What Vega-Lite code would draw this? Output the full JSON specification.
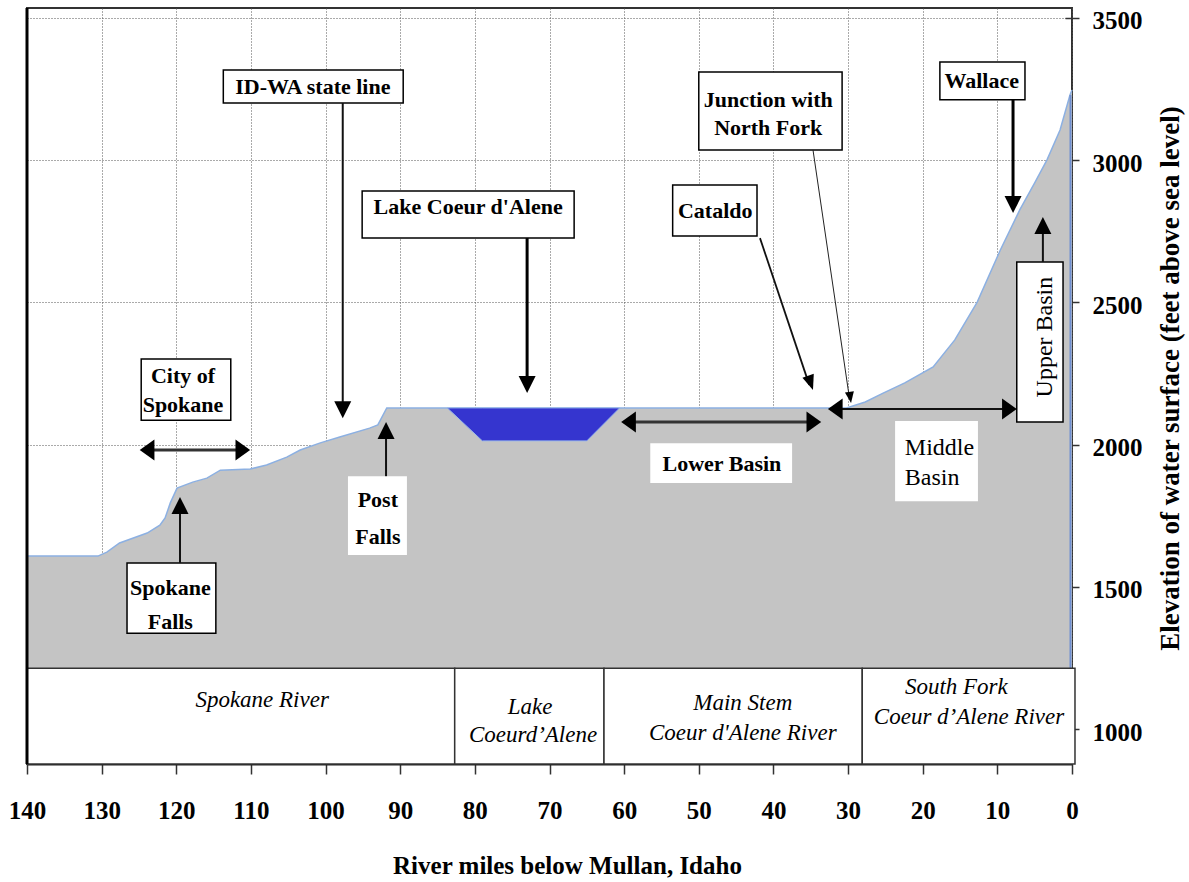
{
  "$schema": "https://vega.github.io/schema/vega-lite/v6.json",
  "width": 1045,
  "height": 756,
  "autosize": {"type": "none"},
  "padding": {"left": 27, "top": 8, "right": 117, "bottom": 118},
  "background": "white",
  "config": {
    "font": "Liberation Serif",
    "view": {"stroke": "#333333", "strokeWidth": 2},
    "axis": {"gridColor": "#555555", "gridDash": [1, 2], "gridWidth": 1, "gridOpacity": 1}
  },
  "datasets": {
    "profile": [
      {"mile": 140, "elev": 1608}, {"mile": 130.5, "elev": 1608}, {"mile": 129.3, "elev": 1622},
      {"mile": 127.6, "elev": 1654}, {"mile": 123.9, "elev": 1689}, {"mile": 122.2, "elev": 1717},
      {"mile": 121.5, "elev": 1742}, {"mile": 120.8, "elev": 1795}, {"mile": 119.9, "elev": 1847},
      {"mile": 117.8, "elev": 1868}, {"mile": 115.9, "elev": 1882}, {"mile": 114.1, "elev": 1910},
      {"mile": 110.1, "elev": 1914}, {"mile": 107.9, "elev": 1928}, {"mile": 105.2, "elev": 1956},
      {"mile": 103.4, "elev": 1981}, {"mile": 100.7, "elev": 2006}, {"mile": 98.1, "elev": 2027},
      {"mile": 94.1, "elev": 2058}, {"mile": 93.0, "elev": 2069}, {"mile": 91.8, "elev": 2129},
      {"mile": 30.2, "elev": 2129}, {"mile": 27.7, "elev": 2150}, {"mile": 25.3, "elev": 2181},
      {"mile": 22.4, "elev": 2217}, {"mile": 18.6, "elev": 2273}, {"mile": 15.7, "elev": 2368},
      {"mile": 12.7, "elev": 2501}, {"mile": 9.6, "elev": 2684}, {"mile": 7.0, "elev": 2825},
      {"mile": 5.0, "elev": 2920}, {"mile": 3.35, "elev": 3001}, {"mile": 1.6, "elev": 3106},
      {"mile": 0.27, "elev": 3229}, {"mile": 0, "elev": 3247}
    ],
    "lake": [
      {"mile": 83.7, "elev": 2129, "elev2": 2129},
      {"mile": 79.0, "elev": 2129, "elev2": 2013},
      {"mile": 65.0, "elev": 2129, "elev2": 2013},
      {"mile": 60.6, "elev": 2129, "elev2": 2129}
    ],
    "edges": [
      {"mile": 0.2, "elev": 3229, "elev2": 1214}
    ],
    "frameLeft": [
      {"mile": 140, "elev": 3535, "elev2": 877}
    ],
    "band": [
      {"mile": 140, "mile2": 82.7, "elev": 1214, "elev2": 877},
      {"mile": 82.7, "mile2": 62.7, "elev": 1214, "elev2": 877},
      {"mile": 62.7, "mile2": 28.1, "elev": 1214, "elev2": 877},
      {"mile": 28.1, "mile2": -0.4, "elev": 1214, "elev2": 877}
    ],
    "bandLabels": [
      {"mile": 108.5, "elev": 1102, "label": "Spokane River"},
      {"mile": 72.6, "elev": 1077, "label": "Lake"},
      {"mile": 72.2, "elev": 979, "label": "Coeurd’Alene"},
      {"mile": 44.1, "elev": 1091, "label": "Main Stem"},
      {"mile": 44.1, "elev": 986, "label": "Coeur d'Alene River"},
      {"mile": 15.5, "elev": 1148, "label": "South Fork"},
      {"mile": 13.8, "elev": 1042, "label": "Coeur d’Alene River"}
    ],
    "boxes": [
      {"mile": 113.7, "mile2": 89.6, "elev": 3317, "elev2": 3201, "kind": "border"},
      {"mile": 95.1, "mile2": 66.7, "elev": 2892, "elev2": 2726, "kind": "border"},
      {"mile": 50.0, "mile2": 30.8, "elev": 3310, "elev2": 3036, "kind": "border"},
      {"mile": 53.5, "mile2": 42.2, "elev": 2913, "elev2": 2733, "kind": "border"},
      {"mile": 17.7, "mile2": 6.3, "elev": 3345, "elev2": 3212, "kind": "border"},
      {"mile": 7.4, "mile2": 1.2, "elev": 2642, "elev2": 2079, "kind": "border"},
      {"mile": 124.7, "mile2": 112.7, "elev": 2301, "elev2": 2086, "kind": "border"},
      {"mile": 126.6, "mile2": 114.7, "elev": 1584, "elev2": 1337, "kind": "border"},
      {"mile": 97.0, "mile2": 89.1, "elev": 1889, "elev2": 1612, "kind": "plain"},
      {"mile": 56.5, "mile2": 37.5, "elev": 2005, "elev2": 1865, "kind": "plain"},
      {"mile": 23.7, "mile2": 12.6, "elev": 2083, "elev2": 1801, "kind": "plain"}
    ],
    "shafts": [
      {"mile": 73.0, "elev": 2726, "mile2": 73.0, "elev2": 2200, "kind": "thick"},
      {"mile": 7.9, "elev": 3212, "mile2": 7.9, "elev2": 2835, "kind": "thick"},
      {"mile": 97.7, "elev": 3201, "mile2": 97.7, "elev2": 2110, "kind": "medium"},
      {"mile": 119.5, "elev": 1584, "mile2": 119.5, "elev2": 1800, "kind": "medium"},
      {"mile": 91.9, "elev": 1889, "mile2": 91.9, "elev2": 2060, "kind": "medium"},
      {"mile": 3.9, "elev": 2642, "mile2": 3.9, "elev2": 2780, "kind": "medium"},
      {"mile": 31.8, "elev": 2125, "mile2": 8.3, "elev2": 2125, "kind": "medium"},
      {"mile": 124.0, "elev": 1981, "mile2": 111.0, "elev2": 1981, "kind": "double"},
      {"mile": 59.5, "elev": 2079, "mile2": 34.5, "elev2": 2079, "kind": "double"},
      {"mile": 41.8, "elev": 2726, "mile2": 35.2, "elev2": 2210, "kind": "thin"},
      {"mile": 34.7, "elev": 3036, "mile2": 29.8, "elev2": 2160, "kind": "hair"}
    ],
    "heads": [
      {"mile": 97.7, "elev": 2093, "dir": "down"},
      {"mile": 73.0, "elev": 2181, "dir": "down"},
      {"mile": 7.9, "elev": 2814, "dir": "down"},
      {"mile": 119.5, "elev": 1816, "dir": "up"},
      {"mile": 91.9, "elev": 2079, "dir": "up"},
      {"mile": 3.9, "elev": 2800, "dir": "up"},
      {"mile": 124.9, "elev": 1981, "dir": "left"},
      {"mile": 60.4, "elev": 2079, "dir": "left"},
      {"mile": 32.7, "elev": 2125, "dir": "left"},
      {"mile": 110.1, "elev": 1981, "dir": "right"},
      {"mile": 33.6, "elev": 2079, "dir": "right"},
      {"mile": 7.4, "elev": 2125, "dir": "right"},
      {"mile": 34.7, "elev": 2192, "dir": "cataldo"},
      {"mile": 29.6, "elev": 2146, "dir": "junction"}
    ],
    "labelsBold": [
      {"mile": 101.7, "elev": 3257, "label": "ID-WA state line"},
      {"mile": 80.9, "elev": 2835, "label": "Lake Coeur d'Alene"},
      {"mile": 40.7, "elev": 3212, "label": "Junction with"},
      {"mile": 40.7, "elev": 3113, "label": "North Fork"},
      {"mile": 47.8, "elev": 2821, "label": "Cataldo"},
      {"mile": 12.1, "elev": 3278, "label": "Wallace"},
      {"mile": 119.1, "elev": 2241, "label": "City of"},
      {"mile": 119.1, "elev": 2139, "label": "Spokane"},
      {"mile": 120.8, "elev": 1496, "label": "Spokane"},
      {"mile": 120.8, "elev": 1376, "label": "Falls"},
      {"mile": 93.0, "elev": 1805, "label": "Post"},
      {"mile": 93.0, "elev": 1675, "label": "Falls"},
      {"mile": 46.9, "elev": 1932, "label": "Lower Basin"}
    ],
    "labelsPlain": [
      {"mile": 22.4, "elev": 1988, "label": "Middle"},
      {"mile": 22.4, "elev": 1882, "label": "Basin"}
    ],
    "labelUpper": [
      {"mile": 3.6, "elev": 2378, "label": "Upper Basin"}
    ]
  },
  "encoding": {
    "x": {
      "field": "mile",
      "type": "quantitative",
      "scale": {"domain": [0, 140], "reverse": true, "nice": false, "zero": false},
      "axis": {
        "orient": "bottom",
        "title": "River miles below Mullan, Idaho",
        "values": [0, 10, 20, 30, 40, 50, 60, 70, 80, 90, 100, 110, 120, 130, 140],
        "format": "d",
        "grid": true,
        "domainColor": "#222222",
        "domainWidth": 2,
        "tickColor": "#333333",
        "tickSize": 10,
        "tickWidth": 1.5,
        "labelFont": "Liberation Serif",
        "labelFontSize": 25,
        "labelFontWeight": "bold",
        "labelColor": "black",
        "labelPadding": 24,
        "labelFlush": false,
        "labelOverlap": false,
        "titleFont": "Liberation Serif",
        "titleFontSize": 25,
        "titleFontWeight": "bold",
        "titleColor": "black",
        "titleBaseline": "alphabetic",
        "titleAnchor": null,
        "titleX": 540,
        "titleY": 109
      }
    },
    "y": {
      "field": "elev",
      "type": "quantitative",
      "scale": {"domain": [877, 3535], "nice": false, "zero": false},
      "axis": {
        "orient": "right",
        "title": "Elevation of water surface (feet above sea level)",
        "values": [1000, 1500, 2000, 2500, 3000, 3500],
        "format": "d",
        "grid": true,
        "offset": -7,
        "domain": false,
        "tickColor": "#333333",
        "tickSize": 14,
        "tickWidth": 1.5,
        "labelFont": "Liberation Serif",
        "labelFontSize": 25,
        "labelFontWeight": "bold",
        "labelColor": "black",
        "labelPadding": 13,
        "labelAlign": "left",
        "labelBaseline": "middle",
        "labelOffset": 3,
        "titleFont": "Liberation Serif",
        "titleFontSize": 27,
        "titleFontWeight": "bold",
        "titleColor": "black",
        "titleAngle": 270,
        "titleAlign": "center",
        "titleBaseline": "middle",
        "titleX": 105,
        "titleY": 370
      }
    }
  },
  "layer": [
    {
      "data": {"name": "profile"},
      "mark": {"type": "area", "color": "#c4c4c4", "interpolate": "linear"},
      "encoding": {"y2": {"datum": 877}}
    },
    {
      "data": {"name": "profile"},
      "mark": {"type": "line", "color": "#8cb0e2", "strokeWidth": 1.5, "interpolate": "linear"},
      "encoding": {}
    },
    {
      "data": {"name": "edges"},
      "mark": {"type": "rule", "color": "#6f8fd0", "strokeWidth": 2},
      "encoding": {"y2": {"field": "elev2"}}
    },
    {
      "data": {"name": "lake"},
      "mark": {"type": "area", "color": "#3535cf", "stroke": "#9ab8ea", "strokeWidth": 1, "interpolate": "linear"},
      "encoding": {"y2": {"field": "elev2"}}
    },
    {
      "data": {"name": "band"},
      "mark": {"type": "rect", "fill": "white", "stroke": "#333333", "strokeWidth": 1.5},
      "encoding": {"x2": {"field": "mile2"}, "y2": {"field": "elev2"}}
    },
    {
      "data": {"name": "bandLabels"},
      "mark": {"type": "text", "font": "Liberation Serif", "fontSize": 23, "fontStyle": "italic", "color": "black", "align": "center", "baseline": "middle"},
      "encoding": {"text": {"field": "label"}}
    },
    {
      "data": {"name": "frameLeft"},
      "mark": {"type": "rule", "color": "black", "strokeWidth": 3},
      "encoding": {"y2": {"field": "elev2"}}
    },
    {
      "data": {"name": "boxes"},
      "transform": [{"filter": "datum.kind === 'border'"}],
      "mark": {"type": "rect", "fill": "white", "stroke": "black", "strokeWidth": 1.5},
      "encoding": {"x2": {"field": "mile2"}, "y2": {"field": "elev2"}}
    },
    {
      "data": {"name": "boxes"},
      "transform": [{"filter": "datum.kind === 'plain'"}],
      "mark": {"type": "rect", "fill": "white"},
      "encoding": {"x2": {"field": "mile2"}, "y2": {"field": "elev2"}}
    },
    {
      "data": {"name": "shafts"},
      "transform": [{"filter": "datum.kind === 'thick'"}],
      "mark": {"type": "rule", "color": "black", "strokeWidth": 3},
      "encoding": {"x2": {"field": "mile2"}, "y2": {"field": "elev2"}}
    },
    {
      "data": {"name": "shafts"},
      "transform": [{"filter": "datum.kind === 'medium'"}],
      "mark": {"type": "rule", "color": "#111111", "strokeWidth": 2},
      "encoding": {"x2": {"field": "mile2"}, "y2": {"field": "elev2"}}
    },
    {
      "data": {"name": "shafts"},
      "transform": [{"filter": "datum.kind === 'double'"}],
      "mark": {"type": "rule", "color": "#333333", "strokeWidth": 3},
      "encoding": {"x2": {"field": "mile2"}, "y2": {"field": "elev2"}}
    },
    {
      "data": {"name": "shafts"},
      "transform": [{"filter": "datum.kind === 'thin'"}],
      "mark": {"type": "rule", "color": "#111111", "strokeWidth": 1.8},
      "encoding": {"x2": {"field": "mile2"}, "y2": {"field": "elev2"}}
    },
    {
      "data": {"name": "shafts"},
      "transform": [{"filter": "datum.kind === 'hair'"}],
      "mark": {"type": "rule", "color": "#222222", "strokeWidth": 1},
      "encoding": {"x2": {"field": "mile2"}, "y2": {"field": "elev2"}}
    },
    {
      "data": {"name": "heads"},
      "transform": [{"filter": "datum.dir === 'down'"}],
      "mark": {"type": "point", "shape": "M0,0L-1,-2L1,-2Z", "size": 289, "filled": true, "color": "black", "opacity": 1, "strokeWidth": 0},
      "encoding": {}
    },
    {
      "data": {"name": "heads"},
      "transform": [{"filter": "datum.dir === 'up'"}],
      "mark": {"type": "point", "shape": "M0,0L-1,-2L1,-2Z", "size": 289, "angle": 180, "filled": true, "color": "black", "opacity": 1, "strokeWidth": 0},
      "encoding": {}
    },
    {
      "data": {"name": "heads"},
      "transform": [{"filter": "datum.dir === 'left'"}],
      "mark": {"type": "point", "shape": "M0,0L-1,-1.4L1,-1.4Z", "size": 441, "angle": 90, "filled": true, "color": "black", "opacity": 1, "strokeWidth": 0},
      "encoding": {}
    },
    {
      "data": {"name": "heads"},
      "transform": [{"filter": "datum.dir === 'right'"}],
      "mark": {"type": "point", "shape": "M0,0L-1,-1.4L1,-1.4Z", "size": 441, "angle": 270, "filled": true, "color": "black", "opacity": 1, "strokeWidth": 0},
      "encoding": {}
    },
    {
      "data": {"name": "heads"},
      "transform": [{"filter": "datum.dir === 'cataldo'"}],
      "mark": {"type": "point", "shape": "M0,0L-1,-2.5L1,-2.5Z", "size": 144, "angle": 341, "filled": true, "color": "black", "opacity": 1, "strokeWidth": 0},
      "encoding": {}
    },
    {
      "data": {"name": "heads"},
      "transform": [{"filter": "datum.dir === 'junction'"}],
      "mark": {"type": "point", "shape": "M0,0L-1,-2.5L1,-2.5Z", "size": 81, "angle": 351.5, "filled": true, "color": "black", "opacity": 1, "strokeWidth": 0},
      "encoding": {}
    },
    {
      "data": {"name": "labelsBold"},
      "mark": {"type": "text", "font": "Liberation Serif", "fontSize": 22, "fontWeight": "bold", "color": "black", "align": "center", "baseline": "middle"},
      "encoding": {"text": {"field": "label"}}
    },
    {
      "data": {"name": "labelsPlain"},
      "mark": {"type": "text", "font": "Liberation Serif", "fontSize": 24, "color": "black", "align": "left", "baseline": "middle"},
      "encoding": {"text": {"field": "label"}}
    },
    {
      "data": {"name": "labelUpper"},
      "mark": {"type": "text", "font": "Liberation Serif", "fontSize": 24, "angle": 270, "color": "black", "align": "center", "baseline": "middle"},
      "encoding": {"text": {"field": "label"}}
    }
  ]
}
